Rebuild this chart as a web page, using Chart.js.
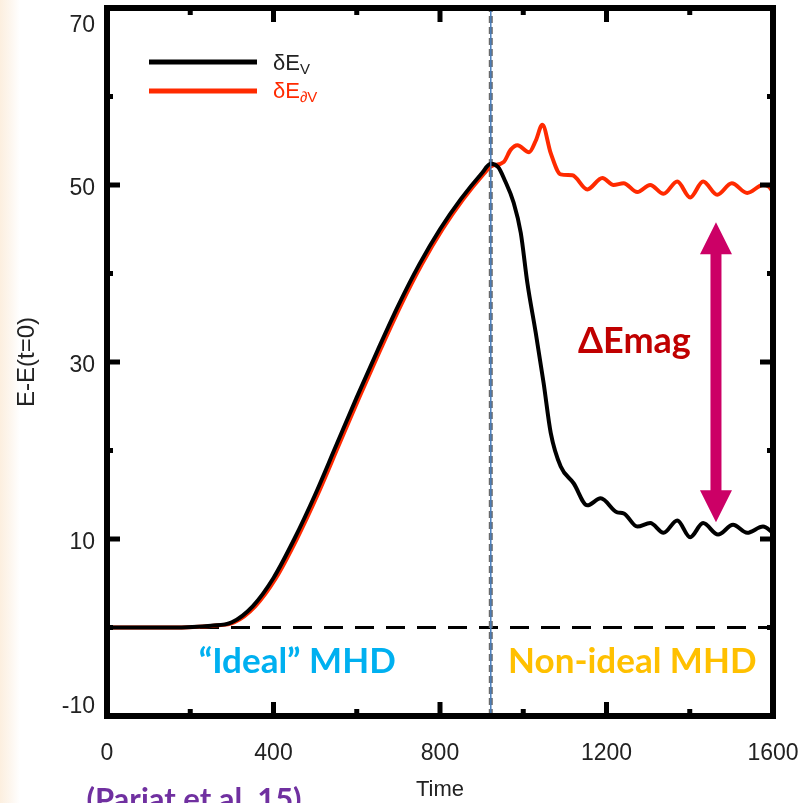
<!DOCTYPE html>
<html><head><meta charset="utf-8">
<script src="https://cdn.jsdelivr.net/npm/chart.js@4.4.0/dist/chart.umd.min.js"></script>
<style>
html,body{margin:0;padding:0;background:#fff;}
#wrap{position:relative;width:804px;height:803px;background:linear-gradient(to right,#fcefdf 0px,#fdf6ee 10px,#ffffff 20px);}
canvas{display:block;}
</style></head><body>
<div id="wrap"><canvas id="c" width="804" height="803"></canvas></div>
<script>
// ---- data ----
const TIME_V = [0,150,250,300,350,400,450,500,550,600,650,700,750,800,850,900,922,940,955,977,994,1010,1030,1049,1066,1090,1121,1154,1186,1226,1241,1274,1305,1337,1370,1401,1432,1468,1504,1538,1576,1600];
const DELTA_E_V = [0,0,0.2,0.6,2.4,5.6,10.0,15.0,20.5,26.0,31.3,36.4,41.0,45.0,48.4,51.3,52.4,52.0,50.6,48.0,44.6,38.9,33.3,27.6,22.0,18.2,16.3,13.8,14.6,13.0,12.9,11.4,11.8,10.7,12.1,10.2,11.8,10.5,11.6,10.7,11.4,10.7];
const TIME_DV = [0,150,256,306,356,406,456,506,556,606,656,706,756,806,856,906,922,953,970,986,1014,1030,1046,1066,1090,1118,1154,1190,1217,1241,1274,1305,1337,1370,1401,1432,1466,1501,1538,1576,1590,1600];
const DELTA_E_DV = [0,0,0.2,0.6,2.4,5.6,10.0,15.0,20.5,26.0,31.3,36.4,41.0,45.0,48.4,51.3,52.1,52.6,54.0,54.5,53.7,55.0,56.8,53.6,51.2,51.1,49.5,50.8,50.0,50.2,49.2,50.0,49.0,50.4,48.6,50.4,48.9,50.2,49.1,50.0,49.8,49.2];
const X_TICKS = [0,400,800,1200,1600];
const X_MINOR = [200,600,1000,1400];
const Y_TICKS = [-10,10,30,50,70];
const Y_MINOR = [0,20,40,60];
const T_SPLIT = 922;           // ideal / non-ideal boundary
const ARROW_T = 1463, ARROW_LOW = 11.9, ARROW_HIGH = 45.8;
const SERIES_NAMES = ['δE', 'δE'];
const SERIES_SUBS = ['V', '∂V'];
const LABEL_IDEAL = '“Ideal” MHD';
const LABEL_NONIDEAL = 'Non-ideal MHD';
const LABEL_DELTA = 'ΔEmag';
const LABEL_REF = '(Pariat et al. 15)';

const toXY = (xs, ys) => xs.map((x, i) => ({x, y: ys[i]}));
const RED = '#ff2a00';

const decor = {
  id: 'decor',
  afterDraw(chart) {
    const {ctx, chartArea: a, scales: {x, y}} = chart;
    ctx.save();
    // frame
    ctx.strokeStyle = '#000'; ctx.lineWidth = 6; ctx.lineCap = 'square';
    ctx.strokeRect(a.left, a.top, a.right - a.left, a.bottom - a.top);
    // ticks on all four sides
    ctx.lineWidth = 5; ctx.lineCap = 'butt';
    const tk = (vals, len) => vals.forEach(v => {
      const px = x.getPixelForValue(v);
      ctx.beginPath(); ctx.moveTo(px, a.bottom); ctx.lineTo(px, a.bottom - len); ctx.stroke();
      ctx.beginPath(); ctx.moveTo(px, a.top); ctx.lineTo(px, a.top + len); ctx.stroke();
    });
    const tky = (vals, len) => vals.forEach(v => {
      const py = y.getPixelForValue(v);
      ctx.beginPath(); ctx.moveTo(a.left, py); ctx.lineTo(a.left + len, py); ctx.stroke();
      ctx.beginPath(); ctx.moveTo(a.right, py); ctx.lineTo(a.right - len, py); ctx.stroke();
    });
    tk(X_TICKS, 14); tk(X_MINOR, 7); tky(Y_TICKS, 13); tky(Y_MINOR, 6);

    // legend
    const lg = [[62, 70, '#000', '#222'], [91, 98, RED, RED]];
    lg.forEach(([ly, by, lc, tc], i) => {
      ctx.strokeStyle = lc; ctx.lineWidth = 5;
      ctx.beginPath(); ctx.moveTo(149, ly); ctx.lineTo(257, ly); ctx.stroke();
      ctx.fillStyle = tc; ctx.textBaseline = 'alphabetic'; ctx.textAlign = 'left';
      ctx.font = '22px "Liberation Sans", Arial, sans-serif';
      ctx.fillText(SERIES_NAMES[i], 273, by);
      const w = ctx.measureText(SERIES_NAMES[i]).width;
      ctx.font = '15px "Liberation Sans", Arial, sans-serif';
      ctx.fillText(SERIES_SUBS[i], 273 + w, by + 4);
    });

    // arrow
    const ax = x.getPixelForValue(ARROW_T);
    const yTop = y.getPixelForValue(ARROW_HIGH), yBot = y.getPixelForValue(ARROW_LOW);
    const hl = 32, hw = 16, sw = 5.5;
    ctx.fillStyle = '#cc0066';
    ctx.beginPath();
    ctx.moveTo(ax, yTop); ctx.lineTo(ax + hw, yTop + hl); ctx.lineTo(ax + sw, yTop + hl);
    ctx.lineTo(ax + sw, yBot - hl); ctx.lineTo(ax + hw, yBot - hl); ctx.lineTo(ax, yBot);
    ctx.lineTo(ax - hw, yBot - hl); ctx.lineTo(ax - sw, yBot - hl); ctx.lineTo(ax - sw, yTop + hl);
    ctx.lineTo(ax - hw, yTop + hl); ctx.closePath(); ctx.fill();

    // annotations
    ctx.textAlign = 'center'; ctx.textBaseline = 'middle';
    ctx.font = 'bold 36px Lato, "Open Sans", sans-serif';
    ctx.fillStyle = '#c00000';
    ctx.fillText(LABEL_DELTA, x.getPixelForValue(1267), y.getPixelForValue(32.3));
    ctx.font = 'bold 35px Lato, "Open Sans", sans-serif';
    ctx.fillStyle = '#00b0f0';
    ctx.fillText(LABEL_IDEAL, x.getPixelForValue(457), y.getPixelForValue(-3.9));
    ctx.fillStyle = '#ffc000';
    ctx.fillText(LABEL_NONIDEAL, x.getPixelForValue(1262), y.getPixelForValue(-3.9));
    ctx.font = 'bold 31px Lato, "Open Sans", sans-serif';
    ctx.fillStyle = '#7030a0'; ctx.textBaseline = 'alphabetic';
    ctx.fillText(LABEL_REF, 194, 810);
    ctx.restore();
  }
};

const tickFont = {family: '"Liberation Sans", Arial, sans-serif', size: 23};

new Chart(document.getElementById('c'), {
  type: 'line',
  data: {
    datasets: [
      {data: [{x: T_SPLIT, y: -10}, {x: T_SPLIT, y: 70}], borderColor: '#4a7ebb', borderWidth: 1.5},
      {label: 'dEv', data: toXY(TIME_V, DELTA_E_V), borderColor: '#000', borderWidth: 4, cubicInterpolationMode: 'monotone'},
      {label: 'dEdv', data: toXY(TIME_DV, DELTA_E_DV), borderColor: RED, borderWidth: 4, cubicInterpolationMode: 'monotone'},
      {data: [{x: T_SPLIT, y: -10}, {x: T_SPLIT, y: 70}], borderColor: '#6a6a6a', borderWidth: 4, borderDash: [7, 4]},
      {data: [{x: 0, y: 0}, {x: 1600, y: 0}], borderColor: '#000', borderWidth: 3, borderDash: [19, 12]}
    ]
  },
  options: {
    responsive: false, animation: false,
    layout: {padding: {top: 8, right: 31, left: 0, bottom: 0}},
    elements: {point: {radius: 0}},
    plugins: {legend: {display: false}, tooltip: {enabled: false}},
    scales: {
      x: {
        type: 'linear', min: 0, max: 1600,
        afterBuildTicks: s => { s.ticks = X_TICKS.map(v => ({value: v})); },
        afterFit: s => { s.height = 87; s.paddingLeft = 0; s.paddingRight = 0; },
        grid: {display: false, drawTicks: false}, border: {display: false},
        ticks: {font: tickFont, color: '#222', padding: 24, maxRotation: 0, callback: v => String(v)},
        title: {display: true, text: 'Time', font: {family: '"Liberation Sans", Arial, sans-serif', size: 22}, color: '#222', padding: {top: 0, bottom: 0}}
      },
      y: {
        type: 'linear', min: -10, max: 70,
        afterBuildTicks: s => { s.ticks = Y_TICKS.map(v => ({value: v})); },
        afterFit: s => { s.width = 107; s.paddingTop = 0; s.paddingBottom = 0; },
        grid: {display: false, drawTicks: false}, border: {display: false},
        ticks: {font: tickFont, color: '#222', padding: 12, labelOffset: 4,
          callback: v => v === 70 ? ['', String(v)] : (v === -10 ? [String(v), ''] : String(v))},
        title: {display: true, text: 'E-E(t=0)', font: {family: '"Liberation Sans", Arial, sans-serif', size: 24}, color: '#222', padding: {top: 13, bottom: 0}}
      }
    }
  },
  plugins: [decor]
});
</script>
</body></html>
